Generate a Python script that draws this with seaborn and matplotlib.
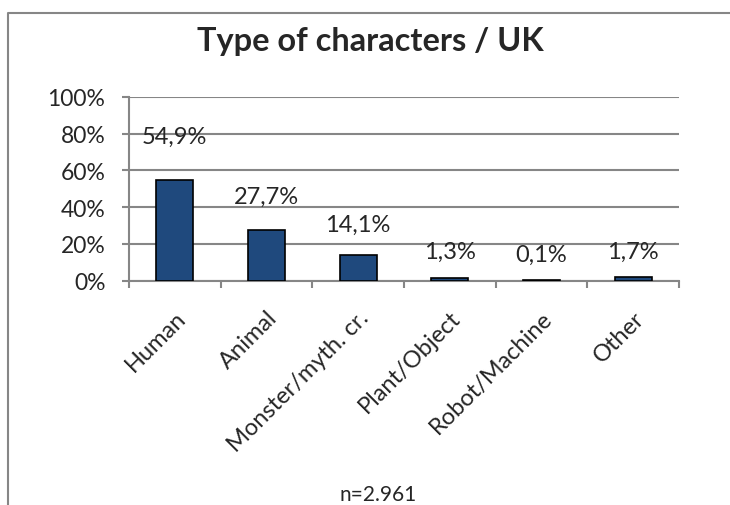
"""Type of characters / UK bar chart."""
# %%
import pandas as pd
import seaborn as sns
import matplotlib.pyplot as plt
from matplotlib.lines import Line2D
from matplotlib.ticker import FixedLocator, PercentFormatter

# %%
categories = ["Human", "Animal", "Monster/myth. cr.", "Plant/Object",
              "Robot/Machine", "Other"]
shares = [54.9, 27.7, 14.1, 1.3, 0.1, 1.7]
share_labels = ["54,9%", "27,7%", "14,1%", "1,3%", "0,1%", "1,7%"]
title = "Type of characters / UK"
n_note = "n=2.961"

# label distance above the bar top, in points (as placed in the original)
label_pad = [31, 24, 22, 19.5, 19, 18.5]

# %%
sns.set_style("white")
plt.rcParams["font.family"] = ["Lato", "DejaVu Sans"]

grey = "#868686"
fs = 17
df = pd.DataFrame({"cat": categories, "share": shares})

fig = plt.figure(figsize=(7.3, 5.06), dpi=100)
ax = fig.add_axes([129 / 730, 1 - 281.5 / 506, 550 / 730, 183.5 / 506])

sns.barplot(data=df, x="cat", y="share", color="#1f497d", saturation=1,
            width=0.4, edgecolor="black", linewidth=1.2, ax=ax, zorder=3)

ax.set_ylim(0, 100)
ax.set_xlim(-0.5, len(categories) - 0.5)
ax.yaxis.set_major_locator(FixedLocator([0, 20, 40, 60, 80, 100]))
ax.yaxis.set_major_formatter(PercentFormatter(decimals=0))
ax.grid(axis="y", color=grey, linewidth=1.5, zorder=0)
ax.set_axisbelow(True)

for side in ["top", "right"]:
    ax.spines[side].set_visible(False)
for side in ["left", "bottom"]:
    ax.spines[side].set_color(grey)
    ax.spines[side].set_linewidth(1.5)

ax.tick_params(axis="y", length=5, width=1.5, color=grey, labelsize=fs - 0.5,
               pad=12, left=True)
ax.xaxis.set_minor_locator(
    FixedLocator([i - 0.5 for i in range(len(categories) + 1)]))
ax.tick_params(axis="x", which="minor", length=5, width=1.5, color=grey,
               bottom=True)
ax.tick_params(axis="x", which="major", length=0, labelsize=fs, pad=19)
plt.setp(ax.get_xticklabels(), rotation=45, ha="right",
         rotation_mode="anchor")

for i, (v, lab) in enumerate(zip(shares, share_labels)):
    ax.annotate(lab, (i, v), xytext=(0, label_pad[i]),
                textcoords="offset points", ha="center", va="center",
                fontsize=fs)

ax.set_xlabel("")
ax.set_ylabel("")
fig.text(378 / 730, 1 - 501 / 506, n_note, ha="center", va="baseline",
         fontsize=15)

fig.text(370 / 730, 1 - 42 / 506, title, ha="center", va="center",
         fontsize=23.4, fontweight="bold")

# outer chart frame (cropped at right and bottom in the original)
fig.add_artist(Line2D([8 / 730, 8 / 730, 1], [0, 1 - 14 / 506, 1 - 14 / 506],
                      transform=fig.transFigure, color=grey, linewidth=1.5))

fig.savefig("out.png", dpi=100)
